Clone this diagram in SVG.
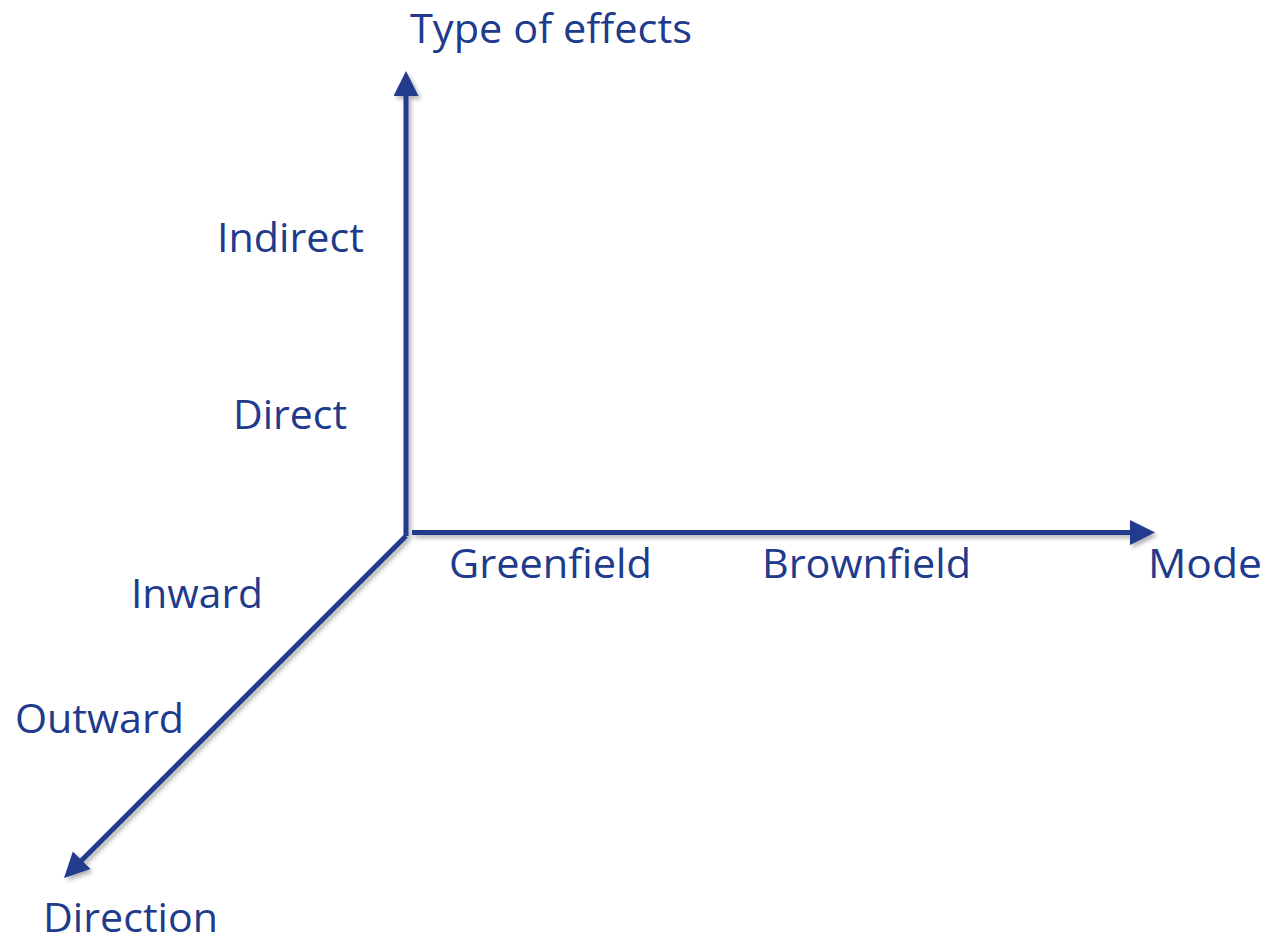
<svg xmlns="http://www.w3.org/2000/svg" width="1268" height="943" viewBox="0 0 1268 943">
  <style>
    .axis { stroke: #203A8C; stroke-width: 5; fill: none; stroke-linecap: butt; }
    .label { font-family: "Open Sans", "Liberation Sans", sans-serif; font-size: 41px; fill: #203A8C; }
  </style>
  <defs>
    <filter id="shadow" x="-10%" y="-10%" width="130%" height="130%">
      <feDropShadow dx="2.5" dy="3" stdDeviation="2" flood-color="#000" flood-opacity="0.3"/>
    </filter>
    <marker id="head" markerUnits="userSpaceOnUse" markerWidth="26" markerHeight="26" refX="1" refY="12.5" orient="auto">
      <path d="M0,0 L25,12.5 L0,25 Z" fill="#203A8C"/>
    </marker>
  </defs>
  <rect width="1268" height="943" fill="#FFFFFF"/>

  <!-- three axes meeting at the origin -->
  <g id="connectors" filter="url(#shadow)">
    <line id="axis-effects" class="axis" x1="406" y1="536" x2="406" y2="95" marker-end="url(#head)"/>
    <line id="axis-mode" class="axis" x1="412" y1="532.5" x2="1131" y2="532.5" marker-end="url(#head)"/>
    <line id="axis-direction" class="axis" x1="406" y1="536" x2="81" y2="861" marker-end="url(#head)"/>
  </g>

  <!-- axis titles -->
  <g id="title-effects"><text class="label" x="410" y="43" textLength="282" lengthAdjust="spacingAndGlyphs">Type of effects</text></g>
  <g id="title-mode"><text class="label" x="1148" y="578" textLength="114" lengthAdjust="spacingAndGlyphs">Mode</text></g>
  <g id="title-direction"><text class="label" x="43" y="932" textLength="175" lengthAdjust="spacingAndGlyphs">Direction</text></g>

  <!-- values along the vertical axis -->
  <g id="val-indirect"><text class="label" x="217" y="252" textLength="147" lengthAdjust="spacingAndGlyphs">Indirect</text></g>
  <g id="val-direct"><text class="label" x="233" y="429" textLength="114" lengthAdjust="spacingAndGlyphs">Direct</text></g>

  <!-- values along the horizontal axis -->
  <g id="val-greenfield"><text class="label" x="449" y="578" textLength="203" lengthAdjust="spacingAndGlyphs">Greenfield</text></g>
  <g id="val-brownfield"><text class="label" x="762" y="578" textLength="209" lengthAdjust="spacingAndGlyphs">Brownfield</text></g>

  <!-- values along the diagonal axis -->
  <g id="val-inward"><text class="label" x="131" y="608" textLength="132" lengthAdjust="spacingAndGlyphs">Inward</text></g>
  <g id="val-outward"><text class="label" x="15" y="733" textLength="169" lengthAdjust="spacingAndGlyphs">Outward</text></g>
</svg>
